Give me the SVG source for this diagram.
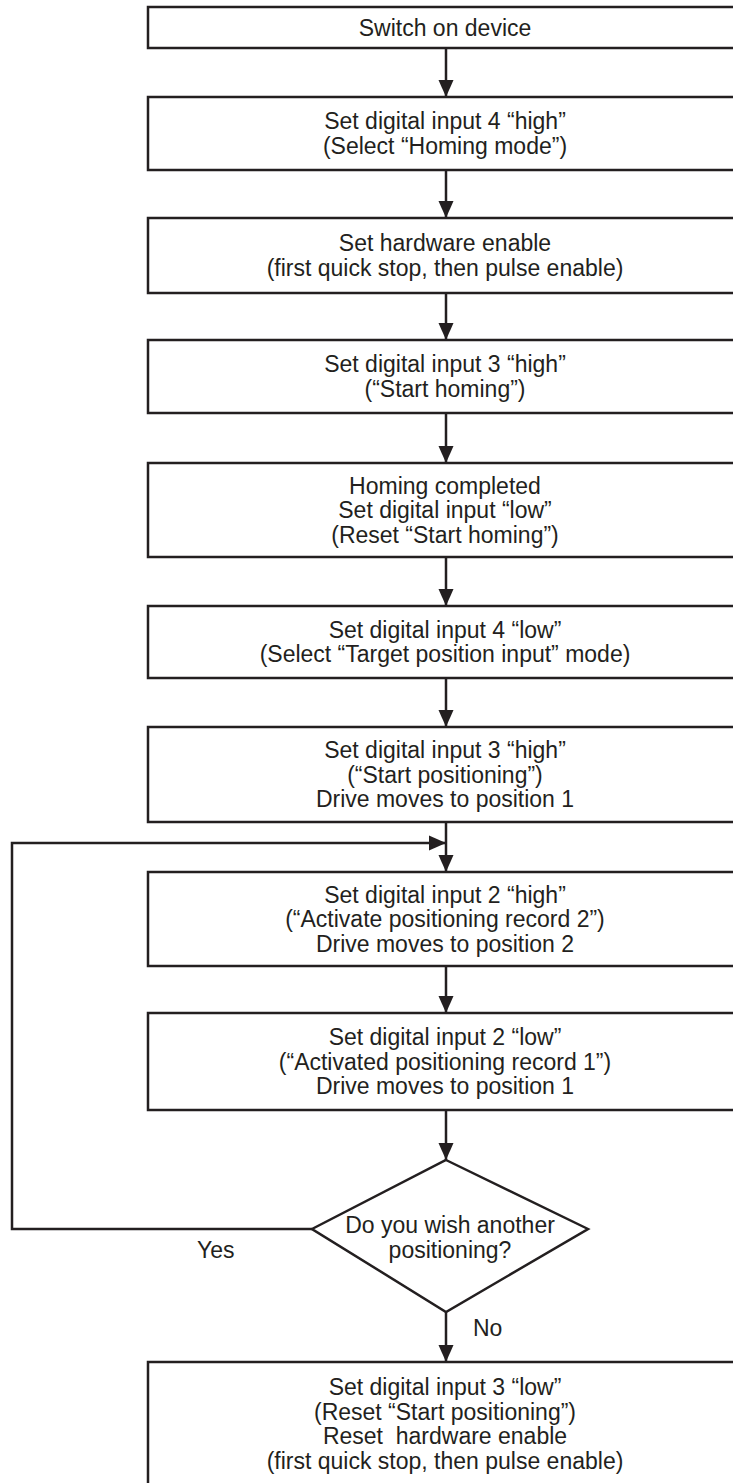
<svg xmlns="http://www.w3.org/2000/svg" width="733" height="1483" viewBox="0 0 733 1483">
<style>
.box{fill:#fff;stroke:#231f20;stroke-width:2.5}
.ln{fill:none;stroke:#231f20;stroke-width:2.5}
text{font-family:"Liberation Sans",Arial,sans-serif;font-size:23px;fill:#231f20;text-anchor:middle}
.lbl{text-anchor:start}
</style>
<defs>
<marker id="ah" markerUnits="userSpaceOnUse" markerWidth="17" markerHeight="16" viewBox="0 0 17 16" refX="17" refY="8" orient="auto">
<path d="M0,0.5 L17,8 L0,15.5 Z" fill="#231f20"/>
</marker>
</defs>
<g id="connectors">
<line class="ln" x1="446" y1="48" x2="446" y2="97" marker-end="url(#ah)"/>
<line class="ln" x1="446" y1="170" x2="446" y2="218" marker-end="url(#ah)"/>
<line class="ln" x1="446" y1="293" x2="446" y2="340" marker-end="url(#ah)"/>
<line class="ln" x1="446" y1="413" x2="446" y2="463" marker-end="url(#ah)"/>
<line class="ln" x1="446" y1="557" x2="446" y2="606" marker-end="url(#ah)"/>
<line class="ln" x1="446" y1="678" x2="446" y2="727" marker-end="url(#ah)"/>
<line class="ln" x1="446" y1="822" x2="446" y2="872" marker-end="url(#ah)"/>
<line class="ln" x1="446" y1="966" x2="446" y2="1013" marker-end="url(#ah)"/>
<line class="ln" x1="446" y1="1110" x2="446" y2="1160" marker-end="url(#ah)"/>
<line class="ln" x1="446" y1="1312" x2="446" y2="1362" marker-end="url(#ah)"/>
<polyline class="ln" points="312,1229 12,1229 12,843 446,843" marker-end="url(#ah)"/>
<text class="lbl" x="197" y="1258">Yes</text>
<text class="lbl" x="473" y="1336">No</text>
</g>
<g id="n1"><rect class="box" x="148" y="7" width="600" height="41"/>
<text x="445" y="35.5">Switch on device</text></g>
<g id="n2"><rect class="box" x="148" y="97" width="600" height="73"/>
<text x="445" y="129.25">Set digital input 4 “high”</text>
<text x="445" y="153.75">(Select “Homing mode”)</text></g>
<g id="n3"><rect class="box" x="148" y="218" width="600" height="75"/>
<text x="445" y="251.25">Set hardware enable</text>
<text x="445" y="275.75">(first quick stop, then pulse enable)</text></g>
<g id="n4"><rect class="box" x="148" y="340" width="600" height="73"/>
<text x="445" y="372.25">Set digital input 3 “high”</text>
<text x="445" y="396.75">(“Start homing”)</text></g>
<g id="n5"><rect class="box" x="148" y="463" width="600" height="94"/>
<text x="445" y="493.5">Homing completed</text>
<text x="445" y="518">Set digital input “low”</text>
<text x="445" y="542.5">(Reset “Start homing”)</text></g>
<g id="n6"><rect class="box" x="148" y="606" width="600" height="72"/>
<text x="445" y="637.75">Set digital input 4 “low”</text>
<text x="445" y="662.25">(Select “Target position input” mode)</text></g>
<g id="n7"><rect class="box" x="148" y="727" width="600" height="95"/>
<text x="445" y="758">Set digital input 3 “high”</text>
<text x="445" y="782.5">(“Start positioning”)</text>
<text x="445" y="807">Drive moves to position 1</text></g>
<g id="n8"><rect class="box" x="148" y="872" width="600" height="94"/>
<text x="445" y="902.5">Set digital input 2 “high”</text>
<text x="445" y="927">(“Activate positioning record 2”)</text>
<text x="445" y="951.5">Drive moves to position 2</text></g>
<g id="n9"><rect class="box" x="148" y="1013" width="600" height="97"/>
<text x="445" y="1045">Set digital input 2 “low”</text>
<text x="445" y="1069.5">(“Activated positioning record 1”)</text>
<text x="445" y="1094">Drive moves to position 1</text></g>
<g id="d1"><polygon class="box" points="446,1160 588,1229 446,1312 312,1229"/>
<text x="450" y="1233">Do you wish another</text>
<text x="450" y="1258">positioning?</text></g>
<g id="n10"><rect class="box" x="148" y="1362" width="600" height="140"/>
<text x="445" y="1395">Set digital input 3 “low”</text>
<text x="445" y="1419.5">(Reset “Start positioning”)</text>
<text x="445" y="1444" xml:space="preserve">Reset  hardware enable</text>
<text x="445" y="1468.5">(first quick stop, then pulse enable)</text></g>
</svg>
